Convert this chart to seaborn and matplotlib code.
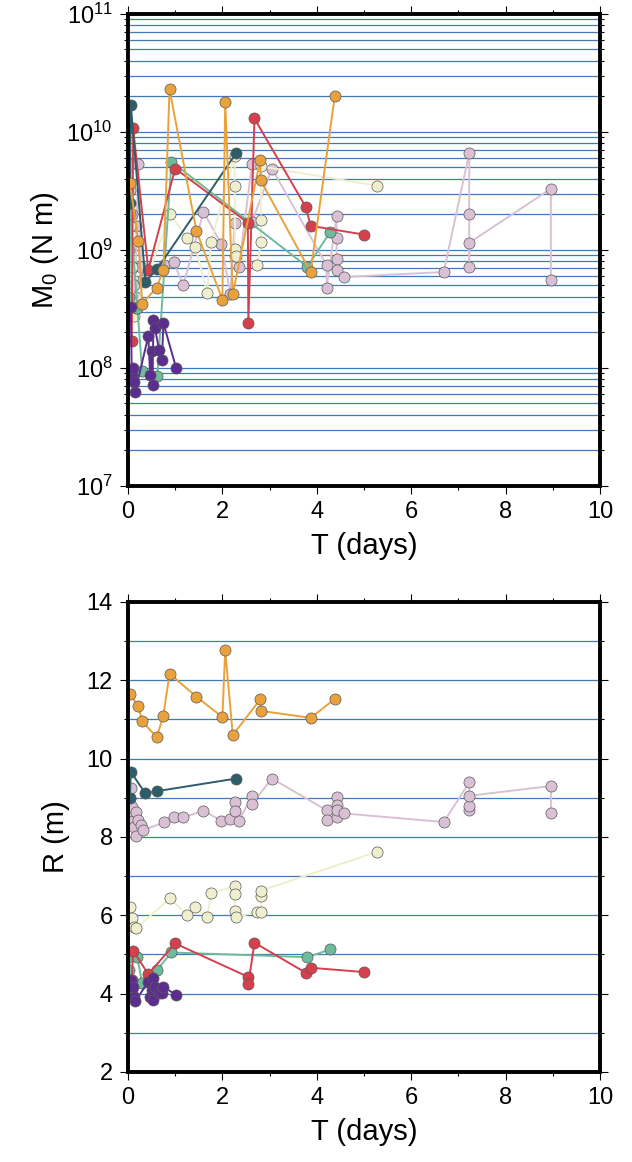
import numpy as np
import pandas as pd
import seaborn as sns
import matplotlib
matplotlib.use("Agg")
from matplotlib import pyplot as plt
from matplotlib.ticker import LogLocator, MultipleLocator, NullFormatter, LogFormatterSciNotation

# ---- data: time (days), moment (N m), radius (m) ----
orange_t = [0.04, 0.22, 0.30, 0.61, 0.75, 0.88, 1.45, 2.00, 2.06, 2.22, 2.80, 2.81, 3.87, 4.38]
orange_m = [3.7e9, 1.2e9, 3.5e8, 4.8e8, 6.8e8, 2.3e10, 1.45e9, 3.8e8, 1.8e10, 4.2e8, 5.8e9, 3.9e9, 6.5e8, 2.0e10]
orange_r = [11.64, 11.35, 10.95, 10.55, 11.10, 12.17, 11.58, 11.06, 12.77, 10.60, 11.51, 11.22, 11.04, 11.52]

red_t = [0.08, 0.11, 0.43, 1.00, 2.54, 2.55, 2.68, 3.77, 3.87, 5.00]
red_m = [1.7e8, 1.07e10, 6.8e8, 4.9e9, 1.7e9, 2.4e8, 1.3e10, 2.3e9, 1.6e9, 1.35e9]
red_r = [4.36, 5.09, 4.50, 5.28, 4.43, 4.25, 5.30, 4.53, 4.66, 4.55]

teal_t = [0.04, 0.06, 0.37, 0.62, 2.29]
teal_m = [2.5e9, 1.7e10, 5.4e8, 6.9e8, 6.6e9]
teal_r = [9.00, 9.66, 9.11, 9.17, 9.49]

green_t = [0.03, 0.05, 0.20, 0.30, 0.62, 0.92, 3.80, 4.29]
green_m = [4.0e8, 2.0e9, 3.2e8, 9.5e7, 8.5e7, 5.6e9, 7.2e8, 1.43e9]
green_r = [4.60, 4.96, 4.93, 4.26, 4.61, 5.05, 4.93, 5.13]

cream_t = [0.04, 0.09, 0.13, 0.17, 0.89, 1.26, 1.43, 1.68, 1.76, 2.26, 2.26, 2.27, 2.28,
           2.74, 2.82, 2.82, 2.82, 5.28]
cream_m = [1.6e9, 7.1e8, 2.75e8, 3.2e8, 2.0e9, 1.26e9, 1.05e9, 4.3e8, 1.17e9, 6.3e9, 3.5e9, 1.02e9, 8.9e8,
           7.4e8, 1.17e9, 1.8e9, 5.1e9, 3.5e9]
cream_r = [6.20, 5.92, 5.69, 5.67, 6.43, 6.00, 6.20, 5.96, 6.57, 6.74, 6.54, 6.11, 5.95,
           6.09, 6.09, 6.50, 6.63, 7.62]

pink_t = [0.02, 0.04, 0.06, 0.08, 0.10, 0.13, 0.16, 0.18, 0.22, 0.28, 0.31,
          0.77, 0.97, 1.17, 1.60, 1.98, 2.17, 2.26, 2.26, 2.35, 2.63, 2.63, 3.05,
          4.21, 4.21, 4.42, 4.42, 4.42, 4.43, 4.58, 6.69, 7.23, 7.23, 7.23, 7.23, 8.96, 8.96]
pink_m = [1.0e9, 3.2e9, 5.4e9, 2.0e9, 7.1e8, 5.0e8, 4.0e8, 1.6e9, 5.4e9, 7.1e8, 5.6e8,
          7.4e8, 7.9e8, 5.0e8, 2.1e9, 1.12e9, 4.2e8, 1.7e9, 8.9e8, 7.2e8, 5.4e9, 1.74e9, 4.9e9,
          7.4e8, 4.8e8, 1.95e9, 1.26e9, 8.3e8, 6.8e8, 5.9e8, 6.5e8, 6.6e9, 2.0e9, 7.2e8, 1.15e9, 3.3e9, 5.6e8]
pink_r = [8.60, 8.99, 9.24, 8.77, 8.40, 8.26, 8.02, 8.64, 8.43, 8.30, 8.17,
          8.37, 8.51, 8.50, 8.67, 8.41, 8.46, 8.89, 8.65, 8.41, 9.05, 8.85, 9.49,
          8.68, 8.43, 9.03, 8.81, 8.51, 8.70, 8.60, 8.38, 9.39, 8.68, 8.80, 9.05, 9.30, 8.62]

purple_t = [0.06, 0.08, 0.10, 0.13, 0.15, 0.43, 0.47, 0.50, 0.52, 0.54, 0.57, 0.66, 0.72, 0.75, 1.02]
purple_m = [3.3e8, 8.7e7, 1.0e8, 7.6e7, 6.2e7, 1.86e8, 8.7e7, 1.38e8, 7.2e7, 2.57e8, 2.2e8, 1.41e8,
            1.17e8, 2.4e8, 1.0e8]
purple_r = [4.35, 4.01, 4.18, 3.92, 3.80, 4.30, 3.92, 4.09, 3.84, 4.39, 4.18, 4.01, 4.01, 4.18, 3.96]

series = {
    "pink": (pink_t, pink_m, pink_r),
    "cream": (cream_t, cream_m, cream_r),
    "green": (green_t, green_m, green_r),
    "red": (red_t, red_m, red_r),
    "teal": (teal_t, teal_m, teal_r),
    "orange": (orange_t, orange_m, orange_r),
    "purple": (purple_t, purple_m, purple_r),
}
palette = {
    "pink": "#d9c0d5",
    "cream": "#efefcf",
    "green": "#6dba9c",
    "red": "#d63f4c",
    "teal": "#2d5d69",
    "orange": "#e9a23b",
    "purple": "#5b2d8e",
}

rows = []
for name, (t, m, r) in series.items():
    for ti, mi, ri in zip(t, m, r):
        rows.append({"event": name, "T": ti, "M0": mi, "R": ri})
df = pd.DataFrame(rows)

sns.set_style("ticks")
plt.rcParams["font.family"] = ["Liberation Sans", "DejaVu Sans"]
plt.rcParams["mathtext.fontset"] = "custom"
plt.rcParams["mathtext.rm"] = "Liberation Sans"
plt.rcParams["mathtext.it"] = "Liberation Sans:italic"
plt.rcParams["text.color"] = "black"
plt.rcParams["axes.labelcolor"] = "black"
plt.rcParams["xtick.color"] = "black"
plt.rcParams["ytick.color"] = "black"

grid_col = "#3f7bb6"

fig = plt.figure(figsize=(6.32, 11.62), dpi=100)
ax1 = fig.add_axes([0.2025, 0.5818, 0.7468, 0.4062])
ax2 = fig.add_axes([0.2025, 0.0775, 0.7468, 0.4045])

line_kw = dict(hue="event", hue_order=list(series.keys()), palette=palette, sort=False,
               estimator=None, legend=False, marker="o", markersize=8,
               markeredgecolor="#5a5a5a", markeredgewidth=0.5, linewidth=1.4)

sns.lineplot(data=df, x="T", y="M0", ax=ax1, **line_kw)
sns.lineplot(data=df, x="T", y="R", ax=ax2, **line_kw)

# top panel
ax1.set_yscale("log")
ax1.set_ylim(1e7, 1e11)
ax1.yaxis.set_major_locator(LogLocator(base=10, numticks=10))
ax1.yaxis.set_minor_locator(LogLocator(base=10, subs=np.arange(2, 10), numticks=20))
ax1.yaxis.set_major_formatter(LogFormatterSciNotation())
ax1.yaxis.set_minor_formatter(NullFormatter())
ax1.set_ylabel(r"M$_\mathdefault{0}$ (N m)", fontsize=21, labelpad=4)

# bottom panel
ax2.set_ylim(2, 14)
ax2.yaxis.set_major_locator(MultipleLocator(2))
ax2.yaxis.set_minor_locator(MultipleLocator(1))
ax2.set_ylabel("R (m)", fontsize=21, labelpad=12)

for ax in (ax1, ax2):
    ax.set_xlim(0, 10)
    ax.xaxis.set_major_locator(MultipleLocator(2))
    ax.xaxis.set_minor_locator(MultipleLocator(1))
    ax.set_xlabel("T (days)", fontsize=21, labelpad=6)
    ax.set_axisbelow(True)
    ax.yaxis.grid(True, which="both", color=grid_col, linewidth=0.9)
    ax.xaxis.grid(False)
    for sp in ax.spines.values():
        sp.set_visible(True)
        sp.set_linewidth(2.8)
        sp.set_color("black")
    ax.tick_params(which="major", direction="out", length=6, width=0.8,
                   top=True, right=True, labelsize=17, pad=5)
    ax.tick_params(which="minor", direction="out", length=3, width=0.8,
                   top=True, right=True)

fig.savefig("out.png", dpi=100)
